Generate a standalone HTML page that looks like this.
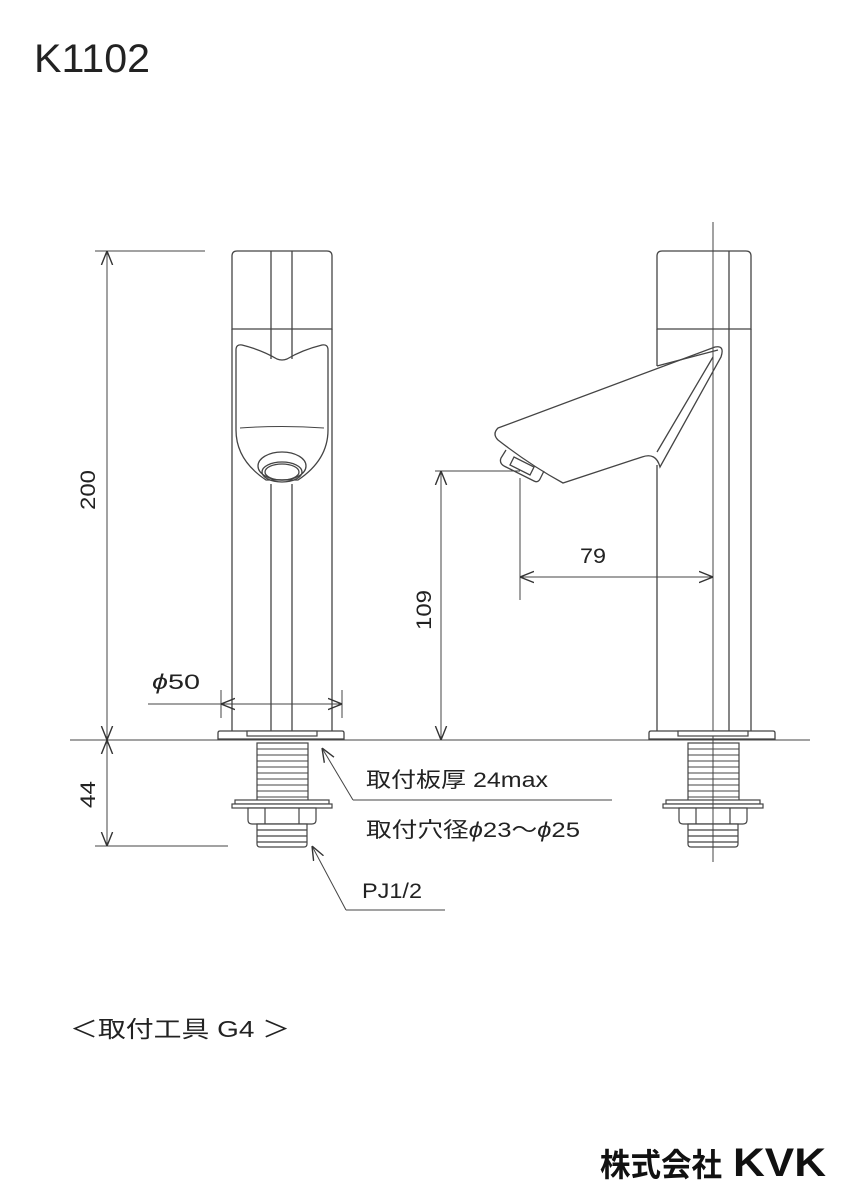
<!DOCTYPE html>
<html><head><meta charset="utf-8"><style>
body{margin:0;background:#fff}
svg{display:block}
text{font-family:"Liberation Sans","Noto Sans CJK JP",sans-serif;fill:#222}
</style></head><body>
<svg width="849" height="1200" viewBox="0 0 849 1200" xmlns="http://www.w3.org/2000/svg">
<defs>
<marker id="a" viewBox="0 0 10 10" refX="10" refY="5" markerWidth="14" markerHeight="14" markerUnits="userSpaceOnUse" orient="auto-start-reverse"><path d="M0,1 L10,5 L0,9" fill="none" stroke="#333" stroke-width="1"/></marker>
<g id="fit" fill="#fff" stroke="#444" stroke-width="1.2">
<rect x="-25" y="3" width="51" height="58"/>
<g stroke-width="1">
<line x1="-25" y1="9" x2="26" y2="9"/><line x1="-25" y1="15" x2="26" y2="15"/><line x1="-25" y1="21" x2="26" y2="21"/><line x1="-25" y1="27" x2="26" y2="27"/><line x1="-25" y1="33" x2="26" y2="33"/><line x1="-25" y1="39" x2="26" y2="39"/><line x1="-25" y1="45" x2="26" y2="45"/><line x1="-25" y1="51" x2="26" y2="51"/><line x1="-25" y1="57" x2="26" y2="57"/></g>
<rect x="-35" y="-9" width="70" height="5"/>
<rect x="-47" y="60" width="94" height="4"/>
<rect x="-50" y="64" width="100" height="4"/>
<path d="M-34,68 h68 v12 q0,4 -4,4 h-60 q-4,0 -4,-4z"/>
<line x1="-17" y1="68" x2="-17" y2="84"/><line x1="17" y1="68" x2="17" y2="84"/>
<path d="M-25,84 h50 v20 q0,3 -3,3 h-44 q-3,0 -3,-3z"/>
<line x1="-25" y1="90" x2="25" y2="90"/><line x1="-25" y1="96" x2="25" y2="96"/><line x1="-25" y1="102" x2="25" y2="102"/>
</g>
</defs>
<text x="34" y="72" font-size="40" textLength="116" lengthAdjust="spacingAndGlyphs">K1102</text>
<g fill="none" stroke="#444" stroke-width="1.3">
<line x1="70" y1="740" x2="810" y2="740" stroke-width="1"/>
<path d="M232,329 V256 q0,-5 5,-5 H327 q5,0 5,5 V329 Z"/>
<line x1="232" y1="329" x2="232" y2="731"/><line x1="332" y1="329" x2="332" y2="731"/>
<line x1="271" y1="251" x2="271" y2="359"/><line x1="292" y1="251" x2="292" y2="359"/>
<line x1="271" y1="484" x2="271" y2="731"/><line x1="292" y1="484" x2="292" y2="731"/>
<path d="M236,350 q0,-6 6,-5 q20,5 35,14 q5,2 10,0 q15,-9 35,-14 q6,-1 6,5 V430 q0,30 -30,50 H266 q-30,-20 -30,-50 Z"/>
<path d="M240,428 q42,-3 84,0" stroke-width="1"/>
<ellipse cx="282" cy="466" rx="24" ry="14"/>
<ellipse cx="282" cy="472" rx="20" ry="10"/><ellipse cx="282" cy="472" rx="17" ry="8"/>
<path d="M220,731 h122 q2,0 2,2 v6 h-126 v-6 q0,-2 2,-2z"/>
<line x1="713" y1="222" x2="713" y2="862" stroke-width="1"/>
<path d="M657,329 V256 q0,-5 5,-5 H746 q5,0 5,5 V329 Z"/>
<line x1="729" y1="251" x2="729" y2="731"/>
<line x1="657" y1="329" x2="657" y2="366"/>
<line x1="657" y1="465" x2="657" y2="731"/><line x1="751" y1="329" x2="751" y2="731"/>
<path d="M498,428 L715,347 q10,-2 6,10 L660,467 q-4,-15 -18,-10 L563,483 Q530,465 498,440 q-6,-6 0,-12Z"/>
<path d="M657,366 L718,350 M657,452 L713,357"/>
<path d="M506,450 l-5,8 q-2,5 3,8 l30,15 q4,2 6,-2 l4,-8" />
<path d="M514,457 l-4,8 l20,10 l4,-8z"/>
<path d="M651,731 h122 q2,0 2,2 v6 h-126 v-6 q0,-2 2,-2z"/>
</g>
<use href="#fit" x="282" y="740"/>
<use href="#fit" x="713" y="740"/>
<line x1="713" y1="740" x2="713" y2="862" stroke="#444" stroke-width="1"/>
<g fill="none" stroke="#444" stroke-width="1">
<line x1="95" y1="251" x2="205" y2="251"/>
<line x1="95" y1="846" x2="228" y2="846"/>
<line x1="107" y1="251" x2="107" y2="740" marker-start="url(#a)" marker-end="url(#a)"/>
<line x1="107" y1="740" x2="107" y2="846" marker-start="url(#a)" marker-end="url(#a)"/>
<line x1="435" y1="471" x2="520" y2="471"/>
<line x1="441" y1="471" x2="441" y2="740" marker-start="url(#a)" marker-end="url(#a)"/>
<line x1="520" y1="478" x2="520" y2="600"/>
<line x1="520" y1="577" x2="713" y2="577" marker-start="url(#a)" marker-end="url(#a)"/>
<line x1="221" y1="690" x2="221" y2="718"/><line x1="342" y1="690" x2="342" y2="718"/>
<line x1="221" y1="704" x2="342" y2="704" marker-start="url(#a)" marker-end="url(#a)"/>
<line x1="148" y1="704" x2="221" y2="704"/>
<path d="M353,800 L322,748" marker-end="url(#a)"/><line x1="353" y1="800" x2="612" y2="800"/>
<path d="M346,910 L312,846" marker-end="url(#a)"/><line x1="346" y1="910" x2="445" y2="910"/>
</g>
<text font-size="21" transform="translate(95,510) rotate(-90)" textLength="40" lengthAdjust="spacingAndGlyphs">200</text>
<text font-size="21" transform="translate(95,808) rotate(-90)" textLength="27" lengthAdjust="spacingAndGlyphs">44</text>
<text font-size="21" transform="translate(431,630) rotate(-90)" textLength="40" lengthAdjust="spacingAndGlyphs">109</text>
<text x="580" y="563" font-size="21" textLength="26" lengthAdjust="spacingAndGlyphs">79</text>
<text x="152" y="689" font-size="21" textLength="48" lengthAdjust="spacingAndGlyphs"><tspan font-style="italic">ϕ</tspan>50</text>
<text x="366" y="787" font-size="21" textLength="182" lengthAdjust="spacingAndGlyphs">取付板厚 24max</text>
<text x="366" y="837" font-size="21" textLength="214" lengthAdjust="spacingAndGlyphs">取付穴径<tspan font-style="italic">ϕ</tspan>23～<tspan font-style="italic">ϕ</tspan>25</text>
<text x="362" y="898" font-size="21" textLength="60" lengthAdjust="spacingAndGlyphs">PJ1/2</text>
<text x="70" y="1037" font-size="23" textLength="220" lengthAdjust="spacingAndGlyphs">＜取付工具 G4 ＞</text>
<text x="600" y="1176" font-size="32" font-weight="bold" style="fill:#111" textLength="122" lengthAdjust="spacingAndGlyphs">株式会社</text>
<text x="733" y="1176" font-size="40" font-weight="bold" style="fill:#111" textLength="93" lengthAdjust="spacingAndGlyphs">KVK</text>
</svg>
</body></html>
